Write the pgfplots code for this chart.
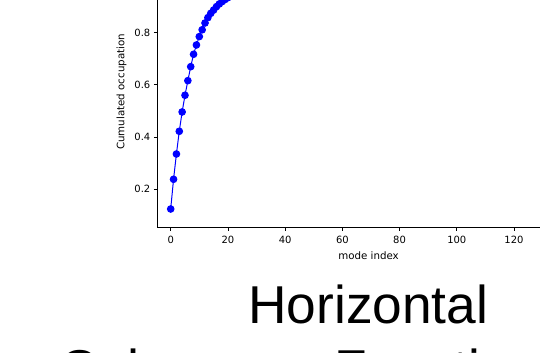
\documentclass[border=0pt]{standalone}
\usepackage{fontspec}
\setmainfont{DejaVu Sans}
\newfontfamily\arialfont{Liberation Sans}
\usepackage{pgfplots}
\pgfplotsset{compat=1.18}
\begin{document}
\begin{tikzpicture}
\useasboundingbox (0,0) rectangle (540bp,353bp);
\clip (0,0) rectangle (540bp,353bp);
\begin{axis}[
  at={(157.3bp,125.7bp)}, anchor=south west,
  scale only axis, width=422.5bp, height=270.6bp,
  xmin=-4.68, xmax=143, ymin=0.0544, ymax=1.091,
  xtick={0,20,40,60,80,100,120,140},
  ytick={0.2,0.4,0.6,0.8,1.0},
  tick pos=left, tick align=outside,
  major tick length=3.5bp,
  tick style={black, line width=0.8bp},
  axis line style={black, line width=0.8bp},
  /pgf/number format/assume math mode=true,
  yticklabel style={/pgf/number format/fixed, /pgf/number format/fixed zerofill, /pgf/number format/precision=1},
  xticklabel style={yshift=-1.5bp},
  ticklabel style={font=\fontsize{10}{12}\selectfont, text=black},
  label style={font=\fontsize{10.3}{12}\selectfont},
  xlabel style={yshift=-1.5bp},
  ylabel style={yshift=1bp},
  xlabel={mode index}, ylabel={Cumulated occupation},
]
\addplot[color=blue, line width=1bp, mark=*, mark size=3.3bp, mark options={fill=blue, draw=blue}] coordinates {
(0,0.1245) (1,0.2383) (2,0.3352) (3,0.4222) (4,0.4962) (5,0.5602) (6,0.6161) (7,0.6697) (8,0.7172) (9,0.7529) (10,0.785) (11,0.811) (12,0.837) (13,0.8575) (14,0.874) (15,0.8866) (16,0.8996) (17,0.910) (18,0.919) (19,0.927) (20,0.934)
};
\end{axis}
\node[anchor=base west, inner sep=0, font=\arialfont\fontsize{53.5}{64}\selectfont] at (248.1bp,29.7bp) {Horizontal};
\node[anchor=base west, inner sep=0, font=\arialfont\fontsize{53.5}{64}\selectfont] at (59.3bp,-34.6bp) {Coherence Function};
\end{tikzpicture}
\end{document}
